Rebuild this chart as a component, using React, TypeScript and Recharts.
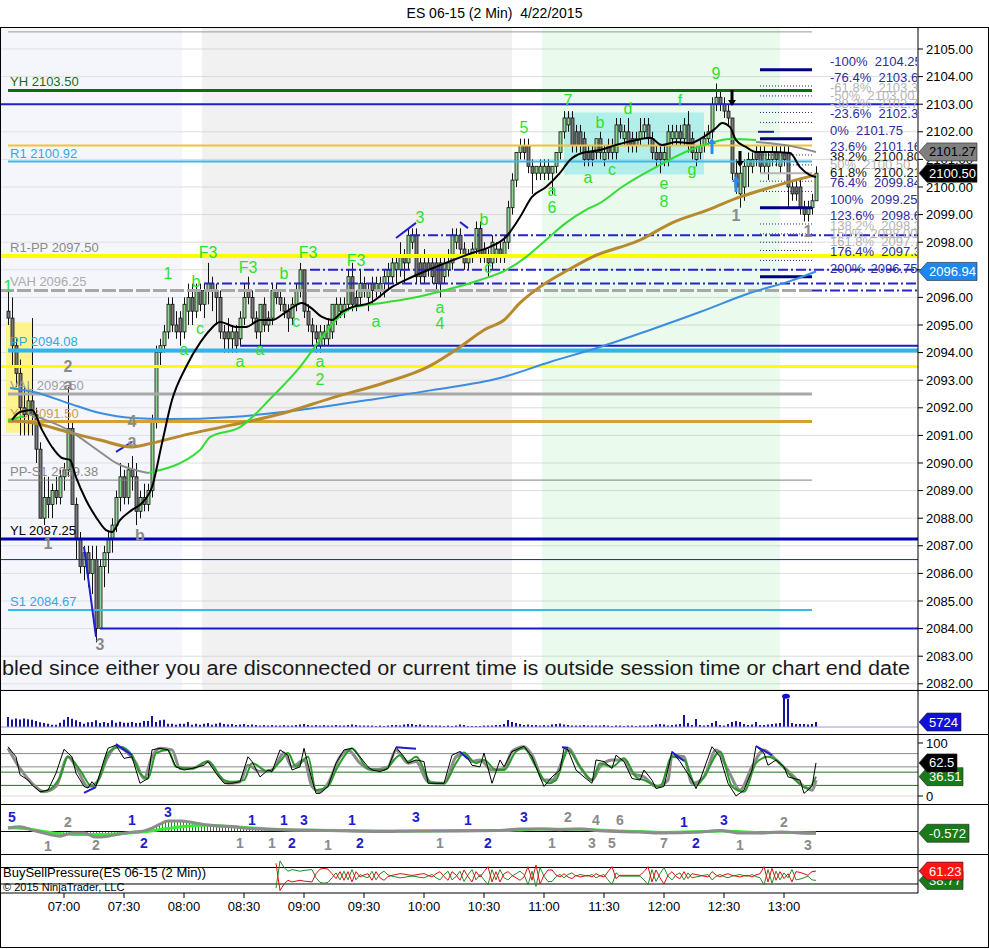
import React from 'react';
import {
  ComposedChart, Bar, Line, Area, XAxis, YAxis, CartesianGrid,
  ReferenceLine, ReferenceArea, ReferenceDot,
} from 'recharts';

const FONT = '"Liberation Sans", Arial, Helvetica, sans-serif';
const W = 989;
const AXIS_W = 71;
const X_DOMAIN: [number, number] = [388, 847];
const PRICE_DOMAIN: [number, number] = [2081.775, 2105.797];

const toMin = (s: string) => { const [h, m] = s.split(':').map(Number); return h * 60 + m; };
const fmtTime = (m: number) => `${String(Math.floor(m / 60)).padStart(2, '0')}:${String(m % 60).padStart(2, '0')}`;

// ---------------- DATA ----------------
const title = 'ES 06-15 (2 Min)  4/22/2015';
const timeTicks = ['07:00', '07:30', '08:00', '08:30', '09:00', '09:30', '10:00', '10:30', '11:00', '11:30', '12:00', '12:30', '13:00'];
const priceTicks = [2082, 2083, 2084, 2085, 2086, 2087, 2088, 2089, 2090, 2091, 2092, 2093, 2094, 2095, 2096, 2097, 2098, 2099, 2100, 2101, 2102, 2103, 2104, 2105];

// time, open, high, low, close
const candles: [string, number, number, number, number][] = [
  ['06:32', 2095.5, 2096.25, 2095.0, 2095.25], ['06:34', 2095.25, 2096.0, 2093.5, 2094.25], ['06:36', 2094.25, 2094.5, 2092.75, 2093.25],
  ['06:38', 2093.25, 2093.75, 2091.0, 2092.0], ['06:40', 2092.0, 2092.75, 2091.0, 2091.75], ['06:42', 2091.75, 2092.75, 2091.0, 2092.25],
  ['06:44', 2092.25, 2095.25, 2091.0, 2091.75], ['06:46', 2091.75, 2092.0, 2090.0, 2090.5], ['06:48', 2090.5, 2090.75, 2088.0, 2088.0],
  ['06:50', 2088.0, 2089.5, 2087.75, 2088.75], ['06:52', 2088.75, 2089.5, 2088.0, 2088.5], ['06:54', 2088.5, 2089.25, 2088.0, 2089.0],
  ['06:56', 2089.0, 2089.5, 2088.5, 2088.75], ['06:58', 2088.75, 2089.75, 2088.5, 2089.5], ['07:00', 2089.5, 2090.0, 2089.0, 2089.75],
  ['07:02', 2089.75, 2092.75, 2089.5, 2091.25], ['07:04', 2091.25, 2091.5, 2088.5, 2088.5], ['07:06', 2088.5, 2088.75, 2086.5, 2087.25],
  ['07:08', 2087.25, 2087.5, 2086.0, 2086.25], ['07:10', 2086.25, 2087.0, 2085.75, 2086.75], ['07:12', 2086.75, 2087.0, 2085.5, 2086.0],
  ['07:14', 2086.0, 2087.0, 2085.25, 2086.5], ['07:16', 2086.5, 2087.0, 2083.5, 2084.0], ['07:18', 2084.0, 2086.5, 2084.0, 2086.25],
  ['07:20', 2086.25, 2087.0, 2085.5, 2086.75], ['07:22', 2086.75, 2087.5, 2086.0, 2087.25], ['07:24', 2087.25, 2088.0, 2086.75, 2087.75],
  ['07:26', 2087.75, 2089.0, 2087.5, 2088.75], ['07:28', 2088.75, 2090.0, 2088.25, 2089.5], ['07:30', 2089.5, 2089.75, 2088.5, 2088.75],
  ['07:32', 2088.75, 2090.0, 2088.5, 2089.75], ['07:34', 2089.75, 2090.25, 2089.0, 2089.5], ['07:36', 2089.5, 2090.0, 2087.75, 2088.25],
  ['07:38', 2088.25, 2089.0, 2088.0, 2088.75], ['07:40', 2088.75, 2089.25, 2088.25, 2088.5], ['07:42', 2088.5, 2089.25, 2088.25, 2089.0],
  ['07:44', 2089.0, 2091.75, 2088.75, 2091.5], ['07:46', 2091.5, 2094.25, 2091.25, 2094.0], ['07:48', 2094.0, 2094.5, 2093.5, 2094.25],
  ['07:50', 2094.25, 2095.0, 2094.0, 2094.75], ['07:52', 2094.75, 2096.0, 2094.5, 2095.75], ['07:54', 2095.75, 2096.0, 2094.75, 2095.0],
  ['07:56', 2095.0, 2095.5, 2094.5, 2094.75], ['07:58', 2095.25, 2095.5, 2094.25, 2094.75], ['08:00', 2094.75, 2096.0, 2094.5, 2095.75],
  ['08:02', 2095.5, 2096.5, 2095.0, 2096.0], ['08:04', 2096.0, 2096.5, 2095.0, 2095.5], ['08:06', 2095.5, 2096.5, 2095.25, 2096.25],
  ['08:08', 2096.25, 2096.5, 2095.5, 2095.75], ['08:10', 2095.75, 2096.5, 2095.25, 2096.25], ['08:12', 2096.25, 2097.25, 2095.75, 2096.5],
  ['08:14', 2096.5, 2096.75, 2095.5, 2096.25], ['08:16', 2096.25, 2096.5, 2095.0, 2096.0], ['08:18', 2096.0, 2096.25, 2094.5, 2094.75],
  ['08:20', 2094.75, 2095.0, 2094.0, 2094.5], ['08:22', 2094.75, 2095.25, 2094.0, 2094.5], ['08:24', 2094.5, 2095.0, 2094.0, 2094.75],
  ['08:26', 2094.75, 2095.0, 2094.0, 2094.25], ['08:28', 2094.5, 2095.5, 2094.25, 2095.25], ['08:30', 2095.25, 2096.5, 2095.0, 2096.0],
  ['08:32', 2096.25, 2096.75, 2095.75, 2096.0], ['08:34', 2096.0, 2096.25, 2095.0, 2095.25], ['08:36', 2095.25, 2095.5, 2094.5, 2094.75],
  ['08:38', 2094.75, 2095.75, 2094.25, 2095.75], ['08:40', 2095.75, 2096.0, 2094.75, 2095.0], ['08:42', 2095.0, 2095.5, 2094.75, 2095.25],
  ['08:44', 2095.25, 2096.5, 2095.0, 2096.25], ['08:46', 2096.25, 2096.5, 2095.75, 2096.0], ['08:48', 2096.0, 2096.25, 2095.5, 2095.75],
  ['08:50', 2095.75, 2096.0, 2095.25, 2095.5], ['08:52', 2095.5, 2095.75, 2094.75, 2095.25], ['08:54', 2095.25, 2096.0, 2095.0, 2095.75],
  ['08:56', 2095.75, 2096.5, 2095.5, 2096.25], ['08:58', 2096.25, 2097.25, 2096.0, 2097.0], ['09:00', 2097.0, 2097.0, 2095.25, 2095.5],
  ['09:02', 2095.5, 2095.75, 2094.75, 2095.0], ['09:04', 2095.0, 2095.25, 2094.25, 2094.75], ['09:06', 2094.75, 2095.0, 2094.0, 2094.5],
  ['09:08', 2094.25, 2095.0, 2094.0, 2094.75], ['09:10', 2094.5, 2095.0, 2094.25, 2094.75], ['09:12', 2094.5, 2095.25, 2094.25, 2095.0],
  ['09:14', 2094.75, 2095.75, 2094.5, 2095.75], ['09:16', 2095.25, 2096.0, 2095.0, 2095.75], ['09:18', 2095.5, 2096.0, 2095.25, 2095.75],
  ['09:20', 2095.5, 2096.0, 2095.25, 2095.75], ['09:22', 2095.75, 2097.0, 2095.5, 2096.75], ['09:24', 2096.75, 2097.25, 2095.5, 2095.75],
  ['09:26', 2096.0, 2096.25, 2095.5, 2095.75], ['09:28', 2096.0, 2097.0, 2095.75, 2096.5], ['09:30', 2096.5, 2096.75, 2096.0, 2096.25],
  ['09:32', 2096.0, 2096.5, 2095.5, 2096.25], ['09:34', 2096.5, 2096.75, 2095.75, 2096.25], ['09:36', 2096.25, 2096.75, 2096.0, 2096.5],
  ['09:38', 2096.25, 2096.75, 2096.0, 2096.5], ['09:40', 2096.5, 2097.0, 2096.0, 2096.75], ['09:42', 2096.75, 2097.25, 2096.25, 2097.0],
  ['09:44', 2096.75, 2097.5, 2096.5, 2097.25], ['09:46', 2097.0, 2097.5, 2096.5, 2097.25], ['09:48', 2097.0, 2098.0, 2096.75, 2097.5],
  ['09:50', 2097.5, 2097.75, 2096.5, 2097.25], ['09:52', 2097.25, 2098.5, 2097.0, 2098.25], ['09:54', 2098.0, 2098.5, 2097.75, 2098.25],
  ['09:56', 2098.25, 2098.5, 2096.5, 2096.75], ['09:58', 2097.25, 2097.5, 2096.5, 2096.75], ['10:00', 2097.25, 2097.75, 2096.5, 2096.75],
  ['10:02', 2097.25, 2097.5, 2096.75, 2097.0], ['10:04', 2097.25, 2097.5, 2096.5, 2096.75], ['10:06', 2097.25, 2097.5, 2096.25, 2096.5],
  ['10:08', 2097.25, 2097.5, 2096.0, 2096.5], ['10:10', 2096.75, 2097.5, 2096.5, 2097.25], ['10:12', 2097.0, 2097.75, 2096.75, 2097.25],
  ['10:14', 2097.25, 2098.5, 2097.0, 2098.25], ['10:16', 2098.0, 2098.5, 2097.75, 2098.25], ['10:18', 2098.25, 2098.5, 2097.5, 2097.75],
  ['10:20', 2097.75, 2098.0, 2097.0, 2097.25], ['10:22', 2097.25, 2097.75, 2097.0, 2097.5], ['10:24', 2097.5, 2098.0, 2097.25, 2097.75],
  ['10:26', 2097.75, 2098.75, 2097.5, 2098.5], ['10:28', 2098.5, 2098.75, 2097.25, 2097.5], ['10:30', 2097.75, 2098.0, 2097.25, 2097.5],
  ['10:32', 2097.5, 2097.75, 2096.75, 2097.25], ['10:34', 2097.25, 2098.25, 2097.0, 2098.0], ['10:36', 2097.5, 2098.0, 2097.25, 2097.75],
  ['10:38', 2097.75, 2098.0, 2097.25, 2097.5], ['10:40', 2097.5, 2098.25, 2097.25, 2098.0], ['10:42', 2098.0, 2099.5, 2097.75, 2099.25],
  ['10:44', 2099.25, 2100.5, 2099.0, 2100.25], ['10:46', 2100.25, 2101.25, 2100.0, 2101.25], ['10:48', 2101.25, 2101.75, 2101.0, 2101.5],
  ['10:50', 2101.5, 2101.75, 2101.0, 2101.25], ['10:52', 2101.5, 2101.75, 2100.5, 2100.75], ['10:54', 2100.75, 2101.0, 2099.75, 2100.5],
  ['10:56', 2100.5, 2100.75, 2100.25, 2100.75], ['10:58', 2100.5, 2101.0, 2100.25, 2100.75], ['11:00', 2100.5, 2101.0, 2100.25, 2100.75],
  ['11:02', 2100.75, 2101.0, 2100.25, 2100.5], ['11:04', 2100.5, 2100.75, 2099.75, 2100.75], ['11:06', 2100.75, 2101.25, 2100.5, 2101.25],
  ['11:08', 2101.25, 2102.0, 2101.0, 2102.0], ['11:10', 2102.0, 2102.75, 2101.75, 2102.5], ['11:12', 2102.25, 2102.75, 2102.0, 2102.5],
  ['11:14', 2102.5, 2102.75, 2101.25, 2101.5], ['11:16', 2102.0, 2102.25, 2101.25, 2101.5], ['11:18', 2102.0, 2102.25, 2101.25, 2101.5],
  ['11:20', 2101.75, 2102.0, 2100.75, 2101.0], ['11:22', 2101.25, 2101.5, 2100.75, 2101.0], ['11:24', 2101.25, 2101.5, 2100.75, 2101.0],
  ['11:26', 2101.25, 2101.75, 2101.0, 2101.75], ['11:28', 2101.75, 2102.0, 2101.0, 2101.25], ['11:30', 2101.0, 2101.5, 2100.75, 2101.25],
  ['11:32', 2101.5, 2101.75, 2101.0, 2101.25], ['11:34', 2101.25, 2101.75, 2101.0, 2101.5], ['11:36', 2101.25, 2102.5, 2101.0, 2102.25],
  ['11:38', 2102.25, 2102.5, 2101.75, 2102.0], ['11:40', 2101.75, 2102.25, 2101.5, 2102.0], ['11:42', 2102.0, 2102.5, 2101.25, 2101.5],
  ['11:44', 2101.75, 2102.0, 2101.25, 2101.5], ['11:46', 2101.5, 2102.0, 2101.25, 2101.75], ['11:48', 2101.75, 2102.5, 2101.5, 2102.0],
  ['11:50', 2102.0, 2102.5, 2101.75, 2102.25], ['11:52', 2102.25, 2102.5, 2101.5, 2101.75], ['11:54', 2101.75, 2102.0, 2101.0, 2101.25],
  ['11:56', 2101.25, 2101.5, 2100.75, 2101.0], ['11:58', 2101.25, 2101.5, 2100.5, 2101.0], ['12:00', 2101.0, 2101.5, 2100.75, 2101.25],
  ['12:02', 2101.0, 2102.25, 2100.75, 2102.0], ['12:04', 2101.75, 2102.25, 2101.5, 2102.0], ['12:06', 2101.75, 2102.25, 2101.5, 2102.0],
  ['12:08', 2102.0, 2102.25, 2101.5, 2101.75], ['12:10', 2101.75, 2102.5, 2101.5, 2102.25], ['12:12', 2102.25, 2102.75, 2101.25, 2101.5],
  ['12:14', 2101.75, 2102.0, 2101.0, 2101.25], ['12:16', 2101.0, 2101.5, 2100.75, 2101.25], ['12:18', 2101.25, 2101.75, 2101.0, 2101.5],
  ['12:20', 2101.5, 2102.0, 2101.25, 2101.75], ['12:22', 2101.75, 2102.25, 2101.5, 2102.0], ['12:24', 2102.0, 2103.25, 2101.75, 2103.0],
  ['12:26', 2103.0, 2103.75, 2102.75, 2103.25], ['12:28', 2103.25, 2103.5, 2102.75, 2103.0], ['12:30', 2103.0, 2103.25, 2102.5, 2102.75],
  ['12:32', 2102.75, 2103.0, 2102.25, 2102.5], ['12:34', 2102.5, 2102.5, 2100.25, 2100.5], ['12:36', 2100.5, 2101.0, 2099.75, 2100.0],
  ['12:38', 2099.75, 2100.75, 2099.25, 2100.5], ['12:40', 2100.0, 2101.0, 2099.5, 2100.75], ['12:42', 2100.75, 2101.25, 2100.0, 2101.0],
  ['12:44', 2100.75, 2101.25, 2100.5, 2101.0], ['12:46', 2101.25, 2101.5, 2100.75, 2101.0], ['12:48', 2101.25, 2101.5, 2100.5, 2100.75],
  ['12:50', 2100.75, 2101.5, 2100.5, 2101.25], ['12:52', 2100.75, 2101.25, 2100.25, 2101.0], ['12:54', 2101.0, 2101.5, 2100.75, 2101.25],
  ['12:56', 2101.25, 2101.5, 2100.75, 2101.0], ['12:58', 2100.75, 2101.5, 2100.5, 2101.25], ['13:00', 2101.25, 2101.5, 2100.75, 2101.0],
  ['13:02', 2101.25, 2101.5, 2099.25, 2100.0], ['13:04', 2100.0, 2100.25, 2099.5, 2099.75], ['13:06', 2100.0, 2100.25, 2099.5, 2099.75],
  ['13:08', 2100.0, 2100.25, 2099.0, 2099.25], ['13:10', 2099.25, 2099.5, 2098.75, 2099.0], ['13:12', 2099.0, 2099.5, 2098.75, 2099.25],
  ['13:14', 2099.25, 2099.75, 2099.0, 2099.5], ['13:16', 2099.5, 2100.75, 2099.5, 2100.5],
];

// volume per bar (same order as candles)
const volumes: number[] = [
  11500, 8620, 9780, 8620, 9780, 8850, 8400, 6900, 5400, 4600, 3800, 2650, 2650, 4950, 8400, 11500, 9550, 7700, 5750, 3800,
  5400, 5750, 7700, 4600, 5750, 4600, 7700, 4950, 6100, 4950, 4950, 5750, 4600, 4950, 6900, 6900, 12650, 5750, 7700, 8400,
  3800, 3800, 2650, 3800, 3800, 5750, 2650, 3800, 2650, 3800, 4600, 2650, 3800, 4950,
  3450, 2880, 3450, 2300, 2880, 3450, 2300, 2880, 2300, 1730, 2300, 1730, 2300,
  1730, 1730, 2300, 1730, 1730, 2300,
  2880, 3450, 2300, 1730, 2300, 1730, 2300, 1730, 1730, 2300,
  1730, 1730, 2300, 2880, 2300, 1730, 1730, 1730,
  1730, 1150, 1730, 1150, 1730,
  2300, 2300, 1730, 2880,
  3450, 3450, 2300, 2880, 1730, 2300, 1730, 1730, 1730, 1150,
  1730, 1150, 1730, 2880, 2300, 1150, 1150, 1150, 1150, 1730,
  1730, 1730, 2300, 2300,
  3450, 8050, 5750, 4600, 3450, 2300,
  2880, 2300, 2300, 1730, 2300, 1730,
  2880, 3450, 4030, 2880, 2300, 1730,
  1730, 1730, 2300, 1730, 1730, 1730,
  1730, 2300, 1730, 1150, 1730, 1730, 1150, 1730,
  1730, 1150, 1730, 1730, 1730, 2300,
  2880, 3450, 2880, 1730, 2300,
  2880, 3450, 13800,
  4600, 2300, 9200, 2300, 1730, 2300,
  4600, 6900, 2300, 1730,
  3450, 5750, 6900, 5750, 3450, 2300,
  2880, 5750, 2300, 2300,
  2880, 3450,
  4030, 4600,
  34500, 32200, 4600, 3450, 3450, 3450, 2880, 3450, 5724,
];

// moving averages
const maFast: [string, number][] = [
  ['06:34', 2091.56], ['06:38', 2091.85], ['06:44', 2091.92], ['06:49', 2091.2], ['06:54', 2090.58], ['06:59', 2090.18], ['07:03', 2090.11],
  ['07:06', 2089.49], ['07:11', 2088.66], ['07:16', 2088.04], ['07:21', 2087.57], ['07:24', 2087.5], ['07:28', 2087.93], ['07:34', 2088.3],
  ['07:39', 2088.55], ['07:44', 2089.13], ['07:49', 2090.72], ['07:54', 2092.28], ['08:01', 2093.48], ['08:08', 2094.35], ['08:13', 2094.82],
  ['08:18', 2095.11], ['08:26', 2094.93], ['08:31', 2094.93], ['08:38', 2095.18], ['08:44', 2095.18], ['08:51', 2095.47], ['08:59', 2095.8],
  ['09:03', 2095.65], ['09:09', 2095.29], ['09:14', 2095.18], ['09:19', 2095.47], ['09:24', 2095.65], ['09:33', 2095.8], ['09:44', 2096.38],
  ['09:54', 2096.74], ['10:11', 2097.25], ['10:24', 2097.61], ['10:33', 2097.83], ['10:41', 2098.19], ['10:48', 2098.91], ['10:54', 2099.64],
  ['11:01', 2100.0], ['11:08', 2100.51], ['11:13', 2100.98], ['11:19', 2101.23], ['11:28', 2101.34], ['11:36', 2101.52], ['11:46', 2101.7],
  ['11:53', 2101.78], ['11:59', 2101.52], ['12:06', 2101.63], ['12:13', 2101.59], ['12:19', 2101.78], ['12:26', 2102.14], ['12:29', 2102.32],
  ['12:33', 2102.17], ['12:36', 2101.7], ['12:41', 2101.45], ['12:46', 2101.27], ['12:53', 2101.27], ['13:03', 2101.23], ['13:08', 2100.72],
  ['13:13', 2100.43], ['13:16', 2100.36],
];
const maMidEarly: [string, number][] = [['06:32', 2091.55], ['06:36', 2091.62], ['06:40', 2091.7]];
const maMid: [string, number][] = [
  ['07:42', 2089.64], ['08:08', 2090.47], ['08:13', 2090.94], ['08:28', 2091.3], ['08:44', 2092.39], ['08:58', 2093.48], ['09:08', 2094.46],
  ['09:16', 2095.18], ['09:24', 2095.62], ['09:39', 2095.8], ['09:54', 2095.98], ['10:11', 2096.27], ['10:28', 2096.63], ['10:41', 2096.99],
  ['10:51', 2097.46], ['11:01', 2098.08], ['11:11', 2098.7], ['11:21', 2099.17], ['11:28', 2099.42], ['11:39', 2100.0], ['11:56', 2100.72],
  ['12:13', 2101.34], ['12:23', 2101.59], ['12:33', 2101.74], ['12:46', 2101.7],
];
const maSlow: [string, number][] = [
  ['06:32', 2091.56], ['06:45', 2091.45], ['07:02', 2091.12], ['07:18', 2090.83], ['07:34', 2090.58], ['07:44', 2090.72], ['08:00', 2091.01],
  ['08:24', 2091.38], ['08:50', 2091.81], ['09:14', 2092.36], ['09:40', 2092.9], ['10:02', 2093.48], ['10:18', 2094.2], ['10:30', 2094.82],
  ['10:40', 2095.18], ['10:48', 2095.8], ['10:58', 2096.38], ['11:12', 2096.99], ['11:24', 2097.46], ['11:48', 2098.08], ['12:04', 2098.7],
  ['12:22', 2099.17], ['12:38', 2099.64], ['12:54', 2100.0], ['13:10', 2100.33], ['13:16', 2100.43],
];
const maLong: [string, number][] = [
  ['06:33', 2092.72], ['06:45', 2092.57], ['07:02', 2092.17], ['07:18', 2091.81], ['07:34', 2091.63], ['07:52', 2091.59], ['08:24', 2091.67],
  ['08:58', 2091.92], ['09:32', 2092.28], ['10:04', 2092.64], ['10:38', 2093.08], ['11:03', 2093.66], ['11:28', 2094.2], ['11:53', 2094.82],
  ['12:18', 2095.47], ['12:43', 2096.16], ['13:03', 2096.59], ['13:16', 2096.94],
];
const maGrayEarly: [string, number][] = [['06:42', 2091.78], ['07:02', 2091.2], ['07:18', 2090.4], ['07:26', 2090.0], ['07:42', 2089.64]];
const maGrayLate: [string, number][] = [['12:46', 2101.63], ['13:03', 2101.49], ['13:16', 2101.27]];

// pivot / level lines
const levelNames = ['YH', 'R1', 'R1-PP', 'VAH', 'PP', 'VAL', 'YC', 'PP-S1', 'YL', 'S1'];
const levelPrices = [2103.5, 2100.92, 2097.5, 2096.25, 2094.08, 2092.5, 2091.5, 2089.38, 2087.25, 2084.67];
const sessionBands: [string, string][] = [['06:28', '07:59'], ['08:09', '10:44'], ['10:59', '12:58']];

// last-value markers on the price axis
const priceBadges: [string, number][] = [['2101.27', 2101.27], ['2100.50', 2100.5], ['2096.94', 2096.94]];

// fibonacci projection
const fibPct = ['-100%', '-76.4%', '-61.8%', '-50%', '-38.2%', '-23.6%', '0%', '23.6%', '38.2%', '50%', '61.8%', '76.4%', '100%', '123.6%', '138.2%', '150%', '161.8%', '176.4%', '200%'];
const fibPrice = [2104.25, 2103.66, 2103.30, 2103.00, 2102.70, 2102.34, 2101.75, 2101.16, 2100.80, 2100.50, 2100.21, 2099.84, 2099.25, 2098.66, 2098.30, 2098.00, 2097.70, 2097.34, 2096.75];
const fibFaded = ['-61.8%', '-50%', '-38.2%', '50%', '138.2%', '150%', '161.8%'];
const fibBlack = ['38.2%', '61.8%'];
const fibMajor = ['-100%', '0%', '100%', '200%'];

// wave annotations (time, price, text)
const waveGreen: [string, number, string][] = [
  ['06:32', 2096.38, '1'], ['07:52', 2096.88, '1'], ['08:06', 2096.59, 'b'], ['08:08', 2094.86, 'c'], ['08:00', 2094.13, 'a'],
  ['08:28', 2093.66, 'a'], ['08:12', 2097.61, 'F3'], ['08:32', 2097.07, 'F3'], ['08:50', 2096.88, 'b'], ['08:56', 2095.11, 'c'],
  ['08:38', 2094.13, 'a'], ['09:02', 2097.61, 'F3'], ['09:08', 2093.66, 'a'], ['09:08', 2093.01, '2'], ['09:26', 2097.32, 'F3'],
  ['09:36', 2095.11, 'a'], ['09:58', 2098.88, '3'], ['10:08', 2095.65, 'a'], ['10:08', 2095.04, '4'], ['10:30', 2098.84, 'b'],
  ['10:32', 2097.1, 'c'], ['10:50', 2102.14, '5'], ['11:04', 2099.86, 'a'], ['11:04', 2099.24, '6'], ['11:12', 2103.12, '7'],
  ['11:28', 2102.32, 'b'], ['11:22', 2100.36, 'a'], ['11:34', 2100.62, 'c'], ['11:42', 2102.86, 'd'], ['12:00', 2100.11, 'e'],
  ['12:00', 2099.49, '8'], ['12:08', 2103.12, 'f'], ['12:14', 2100.62, 'g'], ['12:26', 2104.13, '9'],
];
const waveGray: [string, number, string][] = [
  ['07:02', 2093.51, '2'], ['07:02', 2092.83, 'a'], ['07:34', 2091.52, '4'], ['07:34', 2090.8, 'a'], ['06:52', 2087.1, '1'],
  ['07:18', 2083.41, '3'], ['07:38', 2087.39, 'b'], ['12:36', 2098.95, '1'], ['13:12', 2098.4, '1'],
];
const priceStrokes: [string, number, string, number][] = [
  ['07:10', 2086.96, '07:16', 2083.7], ['07:26', 2090.4, '07:34', 2090.76], ['09:46', 2098.15, '09:56', 2098.7], ['10:18', 2098.73, '10:22', 2098.51],
];
const arrowsUp: [string, number][] = [['12:24', 2101.45], ['12:36', 2100.07]];
const arrowsDown: [string, number][] = [['12:34', 2103.26], ['12:38', 2101.05]];

// stochastics
const stochK: [string, number][] = [
  ['06:32', 93], ['06:36', 74], ['06:38', 40], ['06:42', 30], ['06:44', 21], ['06:48', 8], ['06:52', 11], ['06:56', 43], ['07:00', 88], ['07:04', 74],
  ['07:06', 43], ['07:10', 18], ['07:12', 15], ['07:14', 27], ['07:16', 18], ['07:20', 68], ['07:22', 90], ['07:26', 96], ['07:30', 71], ['07:34', 74],
  ['07:38', 24], ['07:42', 33], ['07:44', 87], ['07:48', 90], ['07:52', 87], ['07:56', 55], ['08:00', 49], ['08:04', 52], ['08:10', 58], ['08:12', 65],
  ['08:16', 43], ['08:20', 24], ['08:24', 24], ['08:28', 27], ['08:32', 74], ['08:34', 65], ['08:38', 36], ['08:42', 49], ['08:44', 46], ['08:48', 87],
  ['08:52', 77], ['08:54', 49], ['08:58', 55], ['09:00', 90], ['09:04', 30], ['09:06', 5], ['09:08', 5], ['09:12', 18], ['09:16', 62], ['09:20', 87],
  ['09:24', 90], ['09:28', 74], ['09:32', 55], ['09:34', 49], ['09:38', 46], ['09:42', 52], ['09:46', 92], ['09:50', 74], ['09:52', 62], ['09:56', 68],
  ['10:00', 65], ['10:02', 24], ['10:06', 24], ['10:10', 24], ['10:14', 77], ['10:18', 84], ['10:22', 71], ['10:24', 58], ['10:28', 55], ['10:30', 81],
  ['10:34', 24], ['10:38', 68], ['10:40', 55], ['10:44', 84], ['10:46', 87], ['10:50', 94], ['10:54', 74], ['10:58', 36], ['11:00', 18], ['11:04', 36],
  ['11:08', 49], ['11:10', 90], ['11:12', 87], ['11:16', 49], ['11:20', 36], ['11:24', 24], ['11:26', 68], ['11:30', 65], ['11:34', 52], ['11:36', 77],
  ['11:40', 65], ['11:44', 33], ['11:48', 30], ['11:50', 49], ['11:54', 30], ['11:56', 14], ['12:00', 18], ['12:04', 84], ['12:08', 65], ['12:14', 30],
  ['12:16', 14], ['12:18', 30], ['12:24', 93], ['12:28', 74], ['12:32', 24], ['12:36', 0], ['12:40', 11], ['12:44', 49], ['12:46', 94], ['12:50', 81],
  ['12:52', 58], ['12:56', 68], ['13:00', 55], ['13:02', 36], ['13:08', 30], ['13:10', 5], ['13:14', 18], ['13:16', 62.5],
];
const stochSlow: [string, number][] = [
  ['06:32', 90], ['06:38', 52], ['06:44', 24], ['06:50', 8], ['06:56', 18], ['07:02', 74], ['07:06', 55], ['07:12', 18], ['07:16', 24], ['07:22', 74],
  ['07:26', 93], ['07:32', 81], ['07:36', 62], ['07:40', 33], ['07:44', 74], ['07:48', 90], ['07:54', 87], ['07:58', 52], ['08:04', 52], ['08:12', 65],
  ['08:18', 36], ['08:22', 24], ['08:28', 27], ['08:32', 58], ['08:38', 46], ['08:44', 49], ['08:50', 81], ['08:54', 55], ['09:00', 68], ['09:04', 18],
  ['09:08', 8], ['09:12', 24], ['09:18', 74], ['09:22', 87], ['09:28', 62], ['09:34', 49], ['09:42', 55], ['09:46', 87], ['09:52', 62], ['09:56', 65],
  ['10:02', 27], ['10:10', 24], ['10:16', 74], ['10:20', 81], ['10:24', 65], ['10:28', 68], ['10:34', 49], ['10:40', 52], ['10:44', 84], ['10:50', 93],
  ['10:54', 77], ['11:00', 30], ['11:04', 30], ['11:10', 74], ['11:12', 90], ['11:18', 55], ['11:24', 30], ['11:28', 55], ['11:34', 68], ['11:40', 68],
  ['11:44', 43], ['11:50', 36], ['11:56', 18], ['12:02', 30], ['12:04', 77], ['12:10', 74], ['12:14', 24], ['12:20', 36], ['12:26', 87], ['12:32', 49],
  ['12:38', 11], ['12:44', 55], ['12:50', 87], ['12:56', 68], ['13:04', 40], ['13:10', 18], ['13:14', 11], ['13:16', 30],
];
const stochD: [string, number][] = [
  ['06:48', 8], ['06:52', 11], ['06:58', 36], ['07:02', 74], ['07:08', 49], ['07:14', 18], ['07:18', 36], ['07:22', 81], ['07:28', 93], ['07:34', 77],
  ['07:38', 43], ['07:42', 33], ['07:46', 81], ['07:52', 87], ['07:56', 55], ['08:04', 52], ['08:12', 65], ['08:20', 30], ['08:24', 27], ['08:30', 30],
  ['08:34', 62], ['08:42', 46], ['08:48', 65], ['08:52', 81], ['08:56', 55], ['09:02', 74], ['09:06', 11], ['09:12', 18], ['09:16', 49], ['09:22', 84],
  ['09:24', 90], ['09:32', 52], ['09:40', 49], ['09:48', 77], ['09:52', 65], ['09:56', 74], ['10:04', 24], ['10:10', 24], ['10:16', 62], ['10:20', 81],
  ['10:26', 62], ['10:30', 68], ['10:36', 49], ['10:40', 49], ['10:46', 84], ['10:50', 90], ['10:56', 55], ['11:02', 24], ['11:06', 30], ['11:12', 87],
  ['11:18', 55], ['11:24', 30], ['11:28', 62], ['11:34', 55], ['11:40', 71], ['11:46', 36], ['11:50', 30], ['11:58', 18], ['12:04', 74], ['12:10', 68],
  ['12:16', 20], ['12:20', 36], ['12:28', 84], ['12:34', 18], ['12:40', 8], ['12:46', 62], ['12:52', 74], ['12:56', 68], ['13:04', 36], ['13:12', 14],
  ['13:16', 36.51],
];
const stochStrokes: [string, number, string, number][] = [
  ['07:10', 6, '07:16', 17], ['07:26', 98, '07:34', 77], ['09:46', 92, '09:56', 89], ['10:18', 83, '10:22', 70],
  ['11:09', 92, '11:12', 91], ['12:04', 83, '12:10', 66], ['12:46', 94, '12:54', 77],
];

// MACD-style oscillator
const macdMain: [string, number][] = [
  ['06:32', 1.1], ['06:38', 1.5], ['06:44', 0.5], ['06:50', -0.5], ['06:58', -1.5], ['07:04', -0.5], ['07:10', -0.5], ['07:16', -1.8],
  ['07:22', -1.5], ['07:28', -0.8], ['07:34', -0.2], ['07:40', 0.2], ['07:44', 1.1], ['07:48', 2.4], ['07:52', 3.4], ['07:58', 3.4],
  ['08:06', 2.7], ['08:12', 2.1], ['08:24', 1.5], ['08:38', 0.8], ['08:58', 0.5], ['09:18', 0.2], ['09:38', 0.0], ['09:58', 0.2],
  ['10:18', 0.2], ['10:38', 0.3], ['10:48', 0.8], ['10:58', 0.8], ['11:08', 0.6], ['11:18', 0.8], ['11:28', 0.2], ['11:48', -0.2],
  ['11:58', -0.5], ['12:18', -0.2], ['12:28', 0.3], ['12:38', -0.5], ['12:48', -0.5], ['12:58', -0.2], ['13:08', -0.5], ['13:16', -0.572],
];
const macdSignal: [string, number][] = [
  ['06:32', 1.2], ['06:40', 1.0], ['06:50', 0.0], ['07:00', -0.8], ['07:10', -1.0], ['07:20', -1.0], ['07:30', -0.6], ['07:40', -0.1],
  ['07:50', 0.8], ['08:00', 1.6], ['08:10', 2.0], ['08:20', 1.8], ['08:30', 1.3], ['08:40', 0.9], ['08:50', 0.6], ['09:00', 0.4],
  ['09:20', 0.3], ['09:40', 0.2], ['10:00', 0.2], ['10:20', 0.3], ['10:40', 0.3], ['10:50', 0.6], ['11:00', 0.8], ['11:10', 0.7],
  ['11:20', 0.7], ['11:30', 0.4], ['11:40', 0.1], ['11:50', -0.1], ['12:00', -0.3], ['12:10', -0.2], ['12:20', 0.0], ['12:30', 0.2],
  ['12:40', -0.2], ['12:50', -0.4], ['13:00', -0.3], ['13:10', -0.4], ['13:16', -0.45],
];
const macdLabelsBlue: [string, number, string][] = [
  ['06:34', 4.7, '5'], ['07:34', 3.7, '1'], ['07:40', -3.7, '2'], ['07:52', 6.3, '3'], ['08:34', 3.7, '1'], ['08:50', 3.7, '1'],
  ['08:54', -3.7, '2'], ['09:00', 3.7, '3'], ['09:24', 3.7, '1'], ['09:28', -3.7, '2'], ['09:56', 4.7, '3'], ['10:22', 3.7, '1'],
  ['10:32', -3.7, '2'], ['10:50', 4.7, '3'], ['12:10', 3.1, '1'], ['12:16', -3.7, '2'], ['12:30', 3.7, '3'],
];
const macdLabelsGray: [string, number, string][] = [
  ['07:02', 3.1, '2'], ['06:52', -4.7, '1'], ['07:16', -4.4, '2'], ['08:28', -3.7, '1'], ['08:44', -3.7, '1'], ['09:12', -4.3, '1'],
  ['10:08', -3.7, '1'], ['11:04', -3.7, '1'], ['11:12', 4.7, '2'], ['11:26', 3.7, '4'], ['11:24', -3.7, '3'], ['11:38', 3.7, '6'],
  ['11:34', -3.7, '5'], ['12:00', -3.7, '7'], ['12:38', -4.3, '1'], ['13:00', 3.1, '2'], ['13:12', -4.3, '3'],
];

// BuySellPressure (sell %) per bar from 08:46
const bspStart = '08:46';
const bspSell: number[] = [
  80, 14, 30, 39, 35, 37, 39, 37, 36, 35, 55, 66, 68, 66, 55, 43, 60, 39, 60, 35,
  60, 47, 52, 55, 39, 60, 45, 39, 48, 51, 53, 55, 54, 52, 51, 52, 54, 55, 51, 47,
  55, 60, 48, 39, 60, 52, 39, 64, 48, 35, 60, 47, 60, 72, 35, 60, 35, 55, 60, 51,
  45, 39, 47, 72, 39, 76, 30, 51, 64, 64, 52, 47, 55, 47, 43, 51, 47, 49, 51, 47,
  55, 50, 47, 60, 72, 43, 51, 51, 51, 51, 51, 51, 60, 72, 35, 64, 45, 30, 51, 60,
  48, 43, 60, 43, 55, 53, 51, 49, 47, 60, 52, 47, 52, 55, 51, 49, 47, 50, 51, 47,
  52, 55, 72, 35, 68, 39, 60, 43, 55, 35, 60, 58, 55, 51, 60, 61.23,
];

// ---------------- DERIVED ROWS ----------------
const candleRows = candles.map(([time, o, h, l, c]) => ({ t: toMin(time), o, h, l, c, range: [l, h] }));
const volRows = volumes.map((v, i) => ({ t: candleRows[i] ? candleRows[i].t : toMin(candles[0][0]) + i * 2, v }));
const pts = (arr: [string, number][]) => arr.map(([time, v]) => ({ t: toMin(time), v }));
const bspRows = bspSell.map((v, i) => ({ t: toMin(bspStart) + i * 2, sell: v, buy: 100 - v }));
const macdRows = pts(macdMain);
const inRange = (a: string, b: string) => macdRows.filter((r) => r.t >= toMin(a) && r.t <= toMin(b));

// ---------------- SHAPES ----------------
const Candle = (props: any) => {
  const { x, y, width, height, payload } = props;
  if (x == null || y == null || !payload) return null;
  const { o, h, l, c } = payload;
  const top = Math.min(y, y + height);
  const hpx = Math.abs(height);
  const k = h - l > 0 ? hpx / (h - l) : 0;
  const cx = Math.round(x + width / 2) + 0.5;
  const yO = top + (h - o) * k;
  const yC = top + (h - c) * k;
  const up = c >= o;
  const bTop = Math.min(yO, yC);
  const bH = Math.max(Math.abs(yC - yO), 1);
  return (
    <g>
      <line x1={cx} x2={cx} y1={top} y2={top + hpx} stroke="#111" strokeWidth={1} />
      <rect x={cx - 1.5} y={bTop} width={3} height={bH} fill={up ? '#8fd48f' : '#7a7a7a'} stroke="#111" strokeWidth={0.8} />
    </g>
  );
};

const textShape = (text: string, color: string, size: number, weight: string | number = 'normal') => (p: any) => (
  <text x={p.cx} y={p.cy} textAnchor="middle" dominantBaseline="central" fill={color} fontSize={size} fontWeight={weight} fontFamily={FONT}>{text}</text>
);

const badgeShape = (text: string, bg: string, fg: string, w: number) => (p: any) => {
  const { cx, cy } = p;
  const x0 = cx + 1;
  return (
    <g>
      <polygon points={`${x0},${cy} ${x0 + 8},${cy - 9} ${x0 + 8 + w},${cy - 9} ${x0 + 8 + w},${cy + 9} ${x0 + 8},${cy + 9}`} fill={bg} stroke="#222" strokeWidth={0.6} />
      <text x={x0 + 10} y={cy} dominantBaseline="central" fill={fg} fontSize={13} fontFamily={FONT}>{text}</text>
    </g>
  );
};

const arrowShape = (color: string, dir: 'up' | 'down') => (p: any) => {
  const { cx, cy } = p;
  const s = dir === 'up' ? 1 : -1;
  return (
    <g>
      <line x1={cx} x2={cx} y1={cy - 7 * s} y2={cy + 7 * s} stroke={color} strokeWidth={3} />
      <polygon points={`${cx - 4},${cy - 3 * s} ${cx + 4},${cy - 3 * s} ${cx},${cy - 9 * s}`} fill={color} />
    </g>
  );
};

const levelLabel = (text: string, color: string, dx: number) => (p: any) => {
  const vb = p.viewBox || {};
  return (
    <text x={(vb.x ?? 0) + dx} y={(vb.y ?? 0) - 4} fill={color} fontSize={13} fontFamily={FONT}>{text}</text>
  );
};

// fib text is clipped at the price axis by a nested svg viewport (plot area width)
const fibColor = (pct: string) => (fibFaded.includes(pct) ? '#b4b4b4' : fibBlack.includes(pct) ? '#151515' : '#2c2c9c');
const fibLabel = (pct: string, price: number) => (p: any) => (
  <svg x={0} y={0} width={917} height={663} overflow="hidden">
    <text x={p.cx} y={p.cy - 4} fill={fibColor(pct)} fontSize={13} fontFamily={FONT} style={{ whiteSpace: 'pre' }}>
      {`${pct}  ${price.toFixed(2)}`}
    </text>
  </svg>
);

const lvl = (name: string) => levelPrices[levelNames.indexOf(name)];
const L = (name: string) => `${name} ${lvl(name).toFixed(2)}`;
const T0 = toMin('06:32');
const TEND = X_DOMAIN[1];

const xAxisHidden = <XAxis dataKey="t" type="number" domain={X_DOMAIN} hide allowDataOverflow />;
const noMargin = { top: 0, right: 0, bottom: 0, left: 0 };
const axisStyle = { fill: '#000', fontSize: 13, fontFamily: FONT };
const dashDot = '10 3 2 3';
const badgeColors: Record<string, [string, string]> = { '2101.27': ['#808080', '#000'], '2100.50': ['#000', '#fff'], '2096.94': ['#1e88f0', '#fff'] };

export default function App() {
  return (
    <div style={{ position: 'absolute', left: 0, top: 0, width: W, height: 949, background: '#fff', fontFamily: FONT, overflow: 'hidden' }}>
      <div style={{ position: 'absolute', left: 0, top: 5, width: W, textAlign: 'center', fontSize: 14, whiteSpace: 'pre', color: '#000' }}>{title}</div>

      {/* MAIN PRICE PANEL */}
      <div style={{ position: 'absolute', left: 0, top: 27 }}>
        <ComposedChart width={W} height={663} data={candleRows} margin={noMargin}>
          {xAxisHidden}
          <YAxis orientation="right" width={AXIS_W} domain={PRICE_DOMAIN} ticks={priceTicks} interval={0} allowDataOverflow
            tickFormatter={(v: number) => v.toFixed(2)} tick={axisStyle} axisLine={{ stroke: '#000' }} tickLine={{ stroke: '#000' }} tickSize={5} tickMargin={3} />
          <CartesianGrid horizontal vertical={false} stroke="#dddddd" />
          <ReferenceArea x1={toMin(sessionBands[0][0])} x2={toMin(sessionBands[0][1])} fill="#dfe5f7" fillOpacity={0.35} stroke="none" ifOverflow="visible" />
          <ReferenceArea x1={toMin(sessionBands[1][0])} x2={toMin(sessionBands[1][1])} fill="#cdcdcd" fillOpacity={0.28} stroke="none" />
          <ReferenceArea x1={toMin(sessionBands[2][0])} x2={toMin(sessionBands[2][1])} fill="#7be08a" fillOpacity={0.16} stroke="none" />
          <ReferenceArea x1={toMin('11:10')} x2={toMin('12:20')} y1={2100.45} y2={2102.7} fill="#66e0e8" fillOpacity={0.42} stroke="none" />
          <ReferenceArea x1={toMin('06:31')} x2={toMin('06:44')} y1={2091.1} y2={2095.1} fill="#fff27a" fillOpacity={0.85} stroke="none" />

          <ReferenceLine segment={[{ x: T0, y: 2105.62 }, { x: 794, y: 2105.62 }]} stroke="#999" strokeWidth={1} />
          <ReferenceLine segment={[{ x: T0, y: lvl('YH') }, { x: 794, y: lvl('YH') }]} stroke="#0d6e0d" strokeWidth={3} label={levelLabel(L('YH'), '#1d6b1d', 2)} />
          <ReferenceLine y={2103.0} stroke="#2020d0" strokeWidth={2} />
          <ReferenceLine segment={[{ x: T0, y: 2101.5 }, { x: 794, y: 2101.5 }]} stroke="#f2c230" strokeWidth={2} />
          <ReferenceLine segment={[{ x: T0, y: lvl('R1') }, { x: 794, y: lvl('R1') }]} stroke="#3cb8ec" strokeWidth={2} label={levelLabel(L('R1'), '#35a8e0', 2)} />
          <ReferenceLine segment={[{ x: toMin('09:53'), y: 2098.25 }, { x: TEND, y: 2098.25 }]} stroke="#2424c8" strokeWidth={2} strokeDasharray={dashDot} />
          <ReferenceLine y={lvl('R1-PP')} stroke="#ffff00" strokeWidth={4} label={levelLabel(L('R1-PP'), '#8a8a8a', 10)} />
          <ReferenceLine segment={[{ x: toMin('09:03'), y: 2097.0 }, { x: TEND, y: 2097.0 }]} stroke="#2424c8" strokeWidth={2} strokeDasharray={dashDot} />
          <ReferenceLine segment={[{ x: toMin('08:10'), y: 2096.5 }, { x: TEND, y: 2096.5 }]} stroke="#2424c8" strokeWidth={2} strokeDasharray={dashDot} />
          <ReferenceLine segment={[{ x: X_DOMAIN[0], y: lvl('VAH') }, { x: 794, y: lvl('VAH') }]} stroke="#a8a8a8" strokeWidth={3} strokeDasharray="14 3" label={levelLabel(L('VAH'), '#ababab', 10)} />
          <ReferenceLine segment={[{ x: 794, y: lvl('VAH') }, { x: TEND, y: lvl('VAH') }]} stroke="#2424c8" strokeWidth={2} strokeDasharray={dashDot} />
          <ReferenceLine segment={[{ x: toMin('08:28'), y: 2094.25 }, { x: TEND, y: 2094.25 }]} stroke="#1a1ac8" strokeWidth={2} />
          <ReferenceLine segment={[{ x: T0, y: lvl('PP') }, { x: TEND, y: lvl('PP') }]} stroke="#30b4ec" strokeWidth={4} label={levelLabel(L('PP'), '#35a8e0', 2)} />
          <ReferenceLine y={2093.5} stroke="#ffff00" strokeWidth={3} />
          <ReferenceLine segment={[{ x: T0, y: lvl('VAL') }, { x: 794, y: lvl('VAL') }]} stroke="#a8a8a8" strokeWidth={3} label={levelLabel(L('VAL'), '#a0a0a0', 2)} />
          <ReferenceLine segment={[{ x: T0, y: lvl('YC') }, { x: 794, y: lvl('YC') }]} stroke="#d4a030" strokeWidth={3} label={levelLabel(L('YC'), '#cf9f45', 2)} />
          <ReferenceLine segment={[{ x: T0, y: lvl('PP-S1') }, { x: 794, y: lvl('PP-S1') }]} stroke="#808080" strokeWidth={1} label={levelLabel(L('PP-S1'), '#8a8a8a', 2)} />
          <ReferenceLine y={lvl('YL')} stroke="#0000b4" strokeWidth={3} label={levelLabel(L('YL'), '#000', 10)} />
          <ReferenceLine y={2086.5} stroke="#1a1ac8" strokeWidth={1} />
          <ReferenceLine segment={[{ x: T0, y: lvl('S1') }, { x: 794, y: lvl('S1') }]} stroke="#3cb8ec" strokeWidth={2} label={levelLabel(L('S1'), '#35a8e0', 2)} />
          <ReferenceLine segment={[{ x: toMin('07:18'), y: 2084.0 }, { x: TEND, y: 2084.0 }]} stroke="#1a1ac8" strokeWidth={2} />

          {/* fib projection lines */}
          {fibPrice.map((p, i) => (
            <ReferenceLine key={`fl${i}`} segment={[{ x: toMin('12:48'), y: p }, { x: toMin('13:14'), y: p }]}
              stroke={fibMajor.includes(fibPct[i]) ? '#000080' : '#2a2a80'} strokeWidth={fibMajor.includes(fibPct[i]) ? 3 : 1}
              strokeDasharray={fibMajor.includes(fibPct[i]) ? undefined : '1 2'} />
          ))}
          <ReferenceLine segment={[{ x: toMin('12:47'), y: 2102.0 }, { x: toMin('12:55'), y: 2102.0 }]} stroke="#1a1aa0" strokeWidth={2} />
          <ReferenceLine segment={[{ x: toMin('12:48'), y: 2100.5 }, { x: toMin('13:14'), y: 2100.5 }]} stroke="#b8b8b8" strokeWidth={2} />

          {priceStrokes.map(([a, pa, b, pb], i) => (
            <ReferenceLine key={`ps${i}`} segment={[{ x: toMin(a), y: pa }, { x: toMin(b), y: pb }]} stroke="#1e1ed0" strokeWidth={2} ifOverflow="visible" />
          ))}

          <Bar dataKey="range" barSize={3} shape={<Candle />} isAnimationActive={false} />

          <Line data={pts(maLong)} dataKey="v" type="monotone" stroke="#3a8de0" strokeWidth={2} dot={false} isAnimationActive={false} />
          <Line data={pts(maSlow)} dataKey="v" type="monotone" stroke="#b88a2e" strokeWidth={3} dot={false} isAnimationActive={false} />
          <Line data={pts(maMidEarly)} dataKey="v" type="monotone" stroke="#33dd33" strokeWidth={2} dot={false} isAnimationActive={false} />
          <Line data={pts(maMid)} dataKey="v" type="monotone" stroke="#33dd33" strokeWidth={2} dot={false} isAnimationActive={false} />
          <Line data={pts(maGrayEarly)} dataKey="v" type="monotone" stroke="#8c8c8c" strokeWidth={2} dot={false} isAnimationActive={false} />
          <Line data={pts(maGrayLate)} dataKey="v" type="monotone" stroke="#8c8c8c" strokeWidth={2} dot={false} isAnimationActive={false} />
          <Line data={pts(maFast)} dataKey="v" type="monotone" stroke="#000" strokeWidth={2} dot={false} isAnimationActive={false} />

          {arrowsUp.map(([t, p], i) => (
            <ReferenceDot key={`au${i}`} x={toMin(t)} y={p} ifOverflow="visible" shape={arrowShape('#2a8cf0', 'up')} />
          ))}
          {arrowsDown.map(([t, p], i) => (
            <ReferenceDot key={`ad${i}`} x={toMin(t)} y={p} ifOverflow="visible" shape={arrowShape('#000', 'down')} />
          ))}

          {waveGreen.map(([t, p, s], i) => (
            <ReferenceDot key={`wg${i}`} x={toMin(t)} y={p} ifOverflow="visible" shape={textShape(s, '#2ee02e', 16)} />
          ))}
          {waveGray.map(([t, p, s], i) => (
            <ReferenceDot key={`wy${i}`} x={toMin(t)} y={p} ifOverflow="visible" shape={textShape(s, '#8a8a8a', 16, 'bold')} />
          ))}
          {fibPrice.map((p, i) => (
            <ReferenceDot key={`ft${i}`} x={toMin('13:23')} y={p} ifOverflow="visible" shape={fibLabel(fibPct[i], p)} />
          ))}
        </ComposedChart>
      </div>

      {/* price-axis value badges drawn on top of the axis labels (same scales, transparent layer) */}
      <div style={{ position: 'absolute', left: 0, top: 27, pointerEvents: 'none' }}>
        <ComposedChart width={W} height={663} data={candleRows.slice(0, 1)} margin={{ top: 0, right: AXIS_W, bottom: 0, left: 0 }}>
          {xAxisHidden}
          <YAxis hide domain={PRICE_DOMAIN} allowDataOverflow />
          {priceBadges.map(([label, v]) => (
            <ReferenceDot key={label} x={TEND} y={v} ifOverflow="visible" shape={badgeShape(label, badgeColors[label][0], badgeColors[label][1], 50)} />
          ))}
        </ComposedChart>
      </div>

      {/* VOLUME PANEL */}
      <div style={{ position: 'absolute', left: 0, top: 690 }}>
        <ComposedChart width={W} height={44} data={volRows} margin={noMargin}>
          {xAxisHidden}
          <YAxis orientation="right" width={AXIS_W} domain={[-8050, 42550]} allowDataOverflow tick={false} tickLine={false} axisLine={{ stroke: '#000' }} />
          <ReferenceLine y={0} stroke="#9a9acc" strokeWidth={1} />
          <Bar dataKey="v" barSize={2} fill="#1414a0" isAnimationActive={false} />
          <ReferenceDot x={toMin('13:01')} y={35500} ifOverflow="visible"
            shape={(p: any) => <ellipse cx={p.cx} cy={p.cy} rx={4} ry={2.5} fill="#1414c0" />} />
          <ReferenceDot x={TEND} y={5724} ifOverflow="visible" shape={badgeShape('5724', '#1010d8', '#fff', 34)} />
        </ComposedChart>
      </div>

      {/* STOCHASTICS PANEL */}
      <div style={{ position: 'absolute', left: 0, top: 734 }}>
        <ComposedChart width={W} height={70} data={pts(stochK)} margin={noMargin}>
          {xAxisHidden}
          <YAxis orientation="right" width={AXIS_W} domain={[-15.09, 116.98]} ticks={[0, 100]} interval={0} allowDataOverflow
            tick={axisStyle} axisLine={{ stroke: '#000' }} tickLine={{ stroke: '#000' }} tickSize={5} tickMargin={3} />
          <ReferenceLine y={80} stroke="#8a8a8a" strokeWidth={1} />
          <ReferenceLine y={55} stroke="#8a8a8a" strokeWidth={1} />
          <ReferenceLine y={45} stroke="#1f741f" strokeWidth={1} />
          <ReferenceLine y={20} stroke="#1f741f" strokeWidth={1} />
          <ReferenceLine y={0} stroke="#ecd6d6" strokeWidth={1} />
          <Line data={pts(stochSlow)} dataKey="v" type="monotone" stroke="#8c8c8c" strokeWidth={3} dot={false} isAnimationActive={false} />
          <Line data={pts(stochD)} dataKey="v" type="monotone" stroke="#2a9a2a" strokeWidth={2} dot={false} isAnimationActive={false} />
          <Line dataKey="v" type="linear" stroke="#000" strokeWidth={1} dot={false} isAnimationActive={false} />
          {stochStrokes.map(([a, va, b, vb], i) => (
            <ReferenceLine key={`ss${i}`} segment={[{ x: toMin(a), y: va }, { x: toMin(b), y: vb }]} stroke="#1e1ed0" strokeWidth={2} ifOverflow="visible" />
          ))}
          <ReferenceDot x={TEND} y={36.51} ifOverflow="visible" shape={badgeShape('36.51', '#1a7a1a', '#fff', 36)} />
          <ReferenceDot x={TEND} y={62.5} ifOverflow="visible" shape={badgeShape('62.5', '#000', '#fff', 30)} />
        </ComposedChart>
      </div>

      {/* MACD PANEL */}
      <div style={{ position: 'absolute', left: 0, top: 804 }}>
        <ComposedChart width={W} height={50} data={macdRows} margin={noMargin}>
          <defs>
            <pattern id="hatchGray" width={3} height={6} patternUnits="userSpaceOnUse"><rect x={0} y={0} width={1} height={6} fill="#6e6e6e" /></pattern>
            <pattern id="hatchGreen" width={3} height={6} patternUnits="userSpaceOnUse"><rect x={0} y={0} width={1} height={6} fill="#1e8a1e" /></pattern>
            <pattern id="hatchLight" width={3} height={6} patternUnits="userSpaceOnUse"><rect x={0} y={0} width={1} height={6} fill="#555" /></pattern>
          </defs>
          {xAxisHidden}
          <YAxis orientation="right" width={AXIS_W} domain={[-7.26, 8.87]} allowDataOverflow tick={false} tickLine={false} axisLine={{ stroke: '#000' }} />
          <Area data={inRange('06:44', '07:44')} dataKey="v" type="monotone" baseValue={0} fill="url(#hatchGray)" fillOpacity={1} stroke="none" isAnimationActive={false} />
          <Area data={inRange('07:44', '08:12')} dataKey="v" type="monotone" baseValue={0} fill="url(#hatchGreen)" fillOpacity={1} stroke="none" isAnimationActive={false} />
          <Area data={inRange('08:12', '09:18')} dataKey="v" type="monotone" baseValue={0} fill="url(#hatchLight)" fillOpacity={1} stroke="none" isAnimationActive={false} />
          <ReferenceLine y={0} stroke="#000" strokeWidth={1} />
          <Line data={pts(macdSignal)} dataKey="v" type="monotone" stroke="#33ee33" strokeWidth={3} dot={false} isAnimationActive={false} />
          <Line dataKey="v" type="monotone" stroke="#8c8c8c" strokeWidth={3} dot={false} isAnimationActive={false} />
          {macdLabelsBlue.map(([t, v, s], i) => (
            <ReferenceDot key={`mb${i}`} x={toMin(t)} y={v} ifOverflow="visible" shape={textShape(s, '#1c1cd0', 14, 'bold')} />
          ))}
          {macdLabelsGray.map(([t, v, s], i) => (
            <ReferenceDot key={`mg${i}`} x={toMin(t)} y={v} ifOverflow="visible" shape={textShape(s, '#8a8a8a', 14, 'bold')} />
          ))}
          <ReferenceDot x={TEND} y={-0.572} ifOverflow="visible" shape={badgeShape('-0.572', '#1a7a1a', '#fff', 42)} />
        </ComposedChart>
      </div>

      {/* BUY SELL PRESSURE PANEL + TIME AXIS */}
      <div style={{ position: 'absolute', left: 0, top: 854 }}>
        <ComposedChart width={W} height={79} data={bspRows} margin={noMargin}>
          <XAxis dataKey="t" type="number" domain={X_DOMAIN} allowDataOverflow ticks={timeTicks.map(toMin)} interval={0} tickFormatter={(m: number) => fmtTime(m)}
            height={40} tick={axisStyle} axisLine={{ stroke: '#000' }} tickLine={{ stroke: '#000' }} tickSize={5} tickMargin={4} />
          <YAxis orientation="right" width={AXIS_W} domain={[8.18, 102.73]} allowDataOverflow tick={false} tickLine={false} axisLine={{ stroke: '#000' }} />
          <ReferenceLine y={70} stroke="#000" strokeWidth={1} />
          <ReferenceLine y={30} stroke="#000" strokeWidth={1} />
          <Line dataKey="buy" type="linear" stroke="#2a8a2a" strokeWidth={1} dot={false} isAnimationActive={false} />
          <Line dataKey="sell" type="linear" stroke="#e01010" strokeWidth={1} dot={false} isAnimationActive={false} />
          <ReferenceDot x={TEND} y={38.77} ifOverflow="visible" shape={badgeShape('38.77', '#1a7a1a', '#fff', 36)} />
          <ReferenceDot x={TEND} y={61.23} ifOverflow="visible" shape={badgeShape('61.23', '#ff1414', '#fff', 36)} />
        </ComposedChart>
      </div>

      {/* overlay texts */}
      <svg width={W} height={949} style={{ position: 'absolute', left: 0, top: 0, pointerEvents: 'none' }}>
        <text x={2} y={675} fontSize={20} fill="#1a1a1a" fontFamily={FONT} textLength={908} lengthAdjust="spacingAndGlyphs">
          bled since either you are disconnected or current time is outside session time or chart end date
        </text>
        <text x={3} y={877} fontSize={13} fill="#000" fontFamily={FONT}>BuySellPressure(ES 06-15 (2 Min))</text>
        <text x={3} y={891} fontSize={11} fill="#000" fontFamily={FONT}>© 2015 NinjaTrader, LLC</text>
      </svg>

      {/* panel separators and frame */}
      {[690, 734, 804, 854].map((y) => (
        <div key={y} style={{ position: 'absolute', left: 0, top: y, width: W, height: 1, background: '#000' }} />
      ))}
      <div style={{ position: 'absolute', left: 0, top: 27, width: 989, height: 921, border: '1px solid #000', boxSizing: 'border-box', pointerEvents: 'none' }} />
    </div>
  );
}
